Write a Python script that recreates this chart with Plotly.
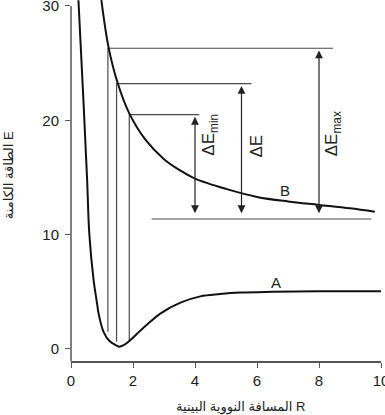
import plotly.graph_objects as go

# Curve A (bound state)
a_r = [0.24, 0.40, 0.52, 0.59, 0.73, 0.84, 0.89, 1.05, 1.24, 1.48, 1.55, 1.70, 1.91, 2.13, 2.50, 2.88, 3.53, 4.17, 4.81, 5.46, 6.5, 8.0, 10.0]
a_e = [30.5, 21.8, 14.8, 10.1, 6.0, 4.0, 3.1, 1.5, 0.7, 0.29, 0.2, 0.33, 0.76, 1.33, 2.25, 3.1, 4.05, 4.6, 4.8, 4.93, 5.0, 5.05, 5.05]
# Curve B (repulsive state)
b_r = [0.98, 1.21, 1.5, 1.88, 2.4, 3.0, 3.53, 4.0, 5.0, 6.0, 7.0, 8.0, 9.0, 9.8]
b_e = [30.5, 26.4, 23.3, 20.6, 18.3, 16.6, 15.6, 14.9, 14.0, 13.3, 12.9, 12.6, 12.3, 12.0]

# Transition levels
trans_r = [1.19, 1.47, 1.88]          # vertical line positions
trans_bottom = [1.5, 0.64, 0.7]       # where vertical lines start (near A)
trans_top = [26.3, 23.2, 20.5]        # upper horizontal levels
trans_end = [8.45, 5.82, 4.14]        # right end of horizontal levels
base_level = 11.37
base_start, base_end = 2.6, 9.69

arrow_r = [8.0, 5.5, 4.0]
arrow_top = [26.1, 23.0, 20.3]
arrow_bot = [11.75, 11.75, 11.75]
arrow_labels = ["ΔE<sub>max</sub>", "ΔE", "ΔE<sub>min</sub>"]
label_r = [8.46, 6.0, 4.5]
label_e = [18.8, 17.7, 18.7]

curve_labels = ["A", "B"]
curve_label_r = [6.6, 6.9]
curve_label_e = [5.8, 13.9]

x_ticks = [0, 2, 4, 6, 8, 10]
y_ticks = [0, 10, 20, 30]
y_range = [-1.05, 30.52]

FONT = "Arial, 'Liberation Sans', 'DejaVu Sans', sans-serif"
LINE_C = "#4a4a4a"

fig = go.Figure()

# thin level lines
for r, lo, hi, end in zip(trans_r, trans_bottom, trans_top, trans_end):
    fig.add_trace(go.Scatter(x=[r, r, end], y=[lo, hi, hi], mode="lines",
                             line=dict(color=LINE_C, width=1.2), hoverinfo="skip"))
fig.add_trace(go.Scatter(x=[base_start, base_end], y=[base_level, base_level], mode="lines",
                         line=dict(color=LINE_C, width=1.2), hoverinfo="skip"))

# curves
fig.add_trace(go.Scatter(x=a_r, y=a_e, mode="lines", line=dict(color="#111", width=2, shape="spline", smoothing=1.0)))
fig.add_trace(go.Scatter(x=b_r, y=b_e, mode="lines", line=dict(color="#111", width=2, shape="spline", smoothing=1.0)))

# double arrows
for r, t, b in zip(arrow_r, arrow_top, arrow_bot):
    fig.add_annotation(x=r, y=t, ax=r, ay=b, xref="x", yref="y", axref="x", ayref="y",
                       showarrow=True, arrowhead=2, startarrowhead=2, arrowside="end+start",
                       arrowsize=1.3, startarrowsize=1.3, arrowwidth=1.2, arrowcolor="#222", text="")

for txt, r, e in zip(arrow_labels, label_r, label_e):
    fig.add_annotation(x=r, y=e, text=txt, showarrow=False, textangle=-90,
                       font=dict(family=FONT, size=17, color="#222"))

for txt, r, e in zip(curve_labels, curve_label_r, curve_label_e):
    fig.add_annotation(x=r, y=e, text=txt, showarrow=False,
                       font=dict(family=FONT, size=15, color="#222"))

# axis titles
fig.add_annotation(xref="paper", yref="paper", x=0.548, y=-0.127, text="المسافة النووية البينية R",
                   showarrow=False, font=dict(family=FONT, size=13, color="#222"), yanchor="middle")
fig.add_annotation(xref="paper", yref="paper", x=-0.203, y=0.515, text="الطاقة الكامنة E",
                   showarrow=False, textangle=-90, font=dict(family=FONT, size=13, color="#222"),
                   xanchor="center")

# y axis line stopping at 30
fig.add_shape(type="line", xref="paper", x0=0, x1=0, yref="y", y0=y_range[0], y1=y_ticks[-1],
              line=dict(color="#555", width=1.5))

fig.update_layout(
    width=385, height=415, showlegend=False,
    margin=dict(l=71, r=4, t=0, b=54, autoexpand=False),
    paper_bgcolor="white", plot_bgcolor="white",
    font=dict(family=FONT, color="#222"),
    xaxis=dict(range=[0, 10], tickvals=x_ticks, showgrid=False, zeroline=False,
               showline=True, linecolor="#555", linewidth=1.5,
               ticks="outside", ticklen=5, tickcolor="#555", tickwidth=1.2,
               ticklabeloverflow="allow",
               tickfont=dict(size=15, family=FONT, color="#222")),
    yaxis=dict(range=y_range, tickvals=y_ticks, showgrid=False, zeroline=False,
               showline=False, ticks="outside", ticklen=5, tickcolor="#555", tickwidth=1.2,
               ticklabeloverflow="allow", ticklabelstandoff=3,
               tickfont=dict(size=15, family=FONT, color="#222")),
)

fig.write_html("out.html", config={"displayModeBar": False},
               post_script="document.body.style.margin='0';document.body.style.overflow='hidden';")
